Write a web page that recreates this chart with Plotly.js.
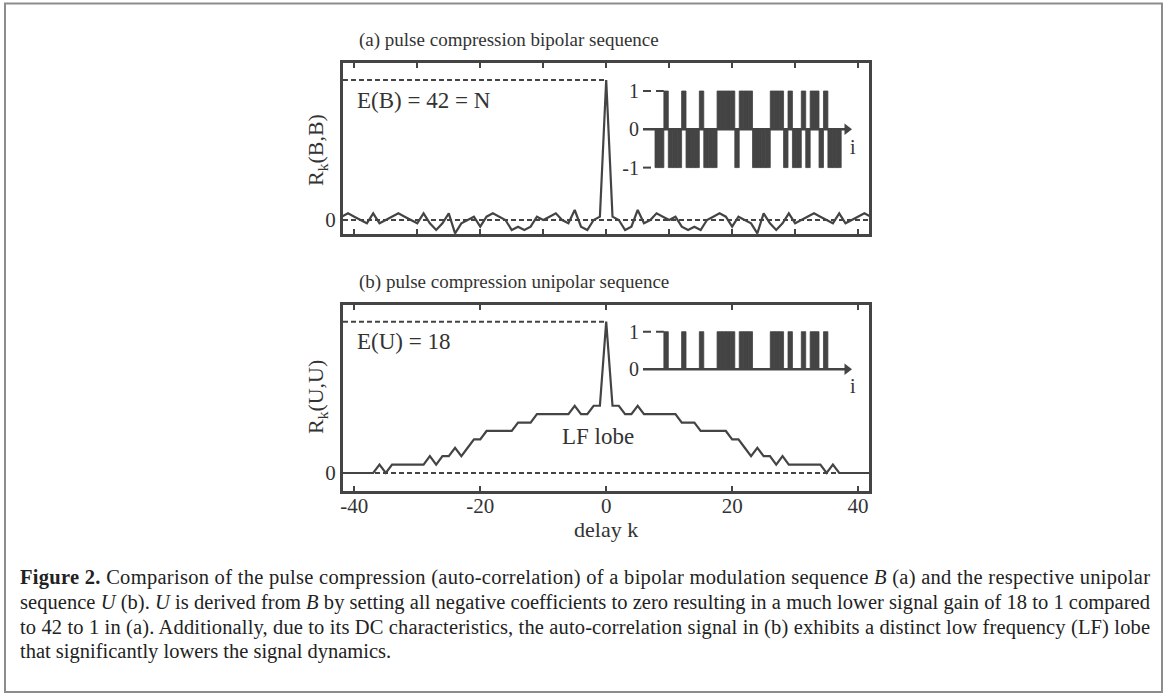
<!DOCTYPE html>
<html>
<head>
<meta charset="utf-8">
<script src="https://cdn.plot.ly/plotly-3.0.1.min.js"></script>
<style>
  html, body { margin: 0; padding: 0; background: #ffffff; }
  #chart { width: 1168px; height: 695px; }
</style>
</head>
<body>
<div id="chart"></div>
<script>
// ---------------- data ----------------
const lags = [-42,-41,-40,-39,-38,-37,-36,-35,-34,-33,-32,-31,-30,-29,-28,-27,-26,-25,-24,-23,-22,-21,
  -20,-19,-18,-17,-16,-15,-14,-13,-12,-11,-10,-9,-8,-7,-6,-5,-4,-3,-2,-1,0,
  1,2,3,4,5,6,7,8,9,10,11,12,13,14,15,16,17,18,19,20,21,22,23,24,25,26,27,28,29,30,31,32,
  33,34,35,36,37,38,39,40,41,42];

// (a) auto-correlation of the bipolar sequence, R_k(B,B)
const rBB = [1,2,1,0,-1,2,-1,0,1,2,1,0,-1,2,-1,-3,-1,2,-4,-1,0,1,
  -2,1,2,1,0,-3,-2,-3,-2,1,0,1,2,0,-1,3,-2,-3,0,1,42,
  1,0,-3,-2,3,-1,0,2,1,0,1,-2,-3,-2,-3,0,1,2,1,-2,1,0,-1,-4,2,-1,-3,-1,2,-1,0,1,
  2,1,0,-1,2,-1,0,1,2,1];

// (b) auto-correlation of the unipolar sequence, R_k(U,U)
const rUU = [0,0,0,0,0,0,1,0,1,1,1,1,1,1,2,1,2,2,3,2,3,4,
  4,5,5,5,5,5,6,6,6,7,7,7,7,7,7,8,7,7,8,8,18,
  8,8,7,7,8,7,7,7,7,7,7,6,6,6,5,5,5,5,5,4,4,3,2,3,2,2,1,2,1,1,1,1,
  1,1,0,1,0,0,0,0,0,0];

// inset sequences (element index i)
const seqIdx = [0,1,2,3,4,5,6,7,8,9,10,11,12,13,14,15,16,17,18,19,20,
  21,22,23,24,25,26,27,28,29,30,31,32,33,34,35,36,37,38,39,40,41];
const seqB = [-1,-1,1,-1,-1,-1,1,-1,-1,-1,1,-1,-1,-1,1,1,1,1,-1,1,1,
  1,-1,-1,-1,-1,1,1,1,-1,1,-1,-1,1,-1,1,1,-1,1,-1,-1,-1];
const seqU = [0,0,1,0,0,0,1,0,0,0,1,0,0,0,1,1,1,1,0,1,1,
  1,0,0,0,0,1,1,1,0,1,0,0,1,0,1,1,0,1,0,0,0];

const xTickVals = [-40,-20,0,20,40];
const xTickText = ['-40','-20','0','20','40'];
const xAllTicks = [-40,-30,-20,-10,0,10,20,30,40];
const xMinorVals = [-30,-10,10,30];
const insetBTicks = [-1,0,1];
const insetBText = ['-1','0','1'];
const insetUTicks = [0,1];
const insetUText = ['0','1'];

const captionLines = [
  '<b>Figure 2.</b> Comparison of the pulse compression (auto-correlation) of a bipolar modulation sequence <i>B</i> (a) and the respective unipolar',
  'sequence <i>U</i> (b). <i>U</i> is derived from <i>B</i> by setting all negative coefficients to zero resulting in a much lower signal gain of 18 to 1 compared',
  'to 42 to 1 in (a). Additionally, due to its DC characteristics, the auto-correlation signal in (b) exhibits a distinct low frequency (LF) lobe',
  'that significantly lowers the signal dynamics.'
];

// ---------------- layout helpers (pixel geometry) ----------------
const W = 1168, H = 695;
const px = x => x / W;
const py = y => 1 - y / H;
const yDom = (top, bottom) => [py(bottom), py(top)];
const xDom = (l, r) => [px(l), px(r)];
function lin(v1, p1, v2, p2, pa, pb) {
  const s = (v2 - v1) / (p2 - p1);
  return [v1 + (pa - p1) * s, v1 + (pb - p1) * s];
}

const INK = '#444444';
const TXT = '#333333';
const FONT = 'Liberation Serif, Times New Roman, serif';

const eB = Math.max(...rBB);
const eU = Math.max(...rUU);

const mainX = lin(-40, 354.3, 0, 606.2, 343, 869);
const topY = lin(0, 220, eB, 80, 234, 62.5);
const botY = lin(0, 473, eU, 321.7, 490.5, 304.8);
const step = (841.2 - 655) / seqIdx.length;
const insX = lin(-0.5, 655, seqIdx.length - 0.5, 841.2, 640, 860);
const insBY = lin(0, 129.3, 1, 91, 185, 75);
const insUY = lin(0, 369.3, 1, 331.7, 395, 318);
const insStart = -0.5 - 12 / step;
const insTip = -0.5 + (847 - 655) / step;
const insLineEnd = -0.5 + (845 - 655) / step;

const axisLine = {showline: true, linecolor: INK, linewidth: 3,
  showgrid: false, zeroline: false};

const traces = [
  {x: lags, y: rBB, xaxis: 'x', yaxis: 'y', type: 'scatter', mode: 'lines',
   line: {color: INK, width: 2.2}, showlegend: false},
  {x: lags, y: rUU, xaxis: 'x2', yaxis: 'y2', type: 'scatter', mode: 'lines',
   line: {color: INK, width: 2.2}, showlegend: false},
  {x: seqIdx, y: seqB, xaxis: 'x3', yaxis: 'y3', type: 'bar', width: 1,
   marker: {color: INK, line: {color: INK, width: 0.8}}, showlegend: false},
  {x: seqIdx, y: seqU, xaxis: 'x4', yaxis: 'y4', type: 'bar', width: 1,
   marker: {color: INK, line: {color: INK, width: 0.8}}, showlegend: false},
  {x: [insTip], y: [0], xaxis: 'x3', yaxis: 'y3', type: 'scatter', mode: 'markers',
   marker: {symbol: 'triangle-right', size: 10, color: INK}, showlegend: false, hoverinfo: 'skip'},
  {x: [insTip], y: [0], xaxis: 'x4', yaxis: 'y4', type: 'scatter', mode: 'markers',
   marker: {symbol: 'triangle-right', size: 10, color: INK}, showlegend: false, hoverinfo: 'skip'}
];

const dashStyle = {color: INK, width: 2, dash: '5px,3px'};
const insetDash = {color: INK, width: 2, dash: '8px,5px'};

const shapes = [
  {type: 'line', xref: 'x', yref: 'y', x0: mainX[0], x1: 0, y0: eB, y1: eB, line: dashStyle, layer: 'below'},
  {type: 'line', xref: 'x', yref: 'y', x0: mainX[0], x1: mainX[1], y0: 0, y1: 0, line: dashStyle, layer: 'below'},
  {type: 'line', xref: 'x2', yref: 'y2', x0: mainX[0], x1: 0, y0: eU, y1: eU, line: dashStyle, layer: 'below'},
  {type: 'line', xref: 'x2', yref: 'y2', x0: mainX[0], x1: mainX[1], y0: 0, y1: 0, line: dashStyle, layer: 'below'},
  {type: 'line', xref: 'x3', yref: 'y3', x0: insStart, x1: 1.5, y0: 1, y1: 1, line: insetDash},
  {type: 'line', xref: 'x3', yref: 'y3', x0: insStart, x1: -0.5, y0: -1, y1: -1, line: insetDash},
  {type: 'line', xref: 'x3', yref: 'y3', x0: insStart, x1: insLineEnd, y0: 0, y1: 0, line: {color: INK, width: 2.5}},
  {type: 'line', xref: 'x4', yref: 'y4', x0: insStart, x1: 1.5, y0: 1, y1: 1, line: insetDash},
  {type: 'line', xref: 'x4', yref: 'y4', x0: insStart, x1: insLineEnd, y0: 0, y1: 0, line: {color: INK, width: 2.5}},
  {type: 'rect', xref: 'paper', yref: 'paper', x0: px(5), x1: px(1162), y0: py(692), y1: py(3.5),
   line: {color: '#8c8c8c', width: 2}, fillcolor: 'rgba(0,0,0,0)'}
];

const annotations = [
  {xref: 'paper', yref: 'paper', x: px(357), y: py(40), xanchor: 'left', yanchor: 'middle',
   text: '(a) pulse compression bipolar sequence', showarrow: false, font: {size: 19, color: TXT}},
  {xref: 'paper', yref: 'paper', x: px(357), y: py(282), xanchor: 'left', yanchor: 'middle',
   text: '(b) pulse compression unipolar sequence', showarrow: false, font: {size: 19, color: TXT}},
  {xref: 'paper', yref: 'paper', x: px(355), y: py(100), xanchor: 'left', yanchor: 'middle',
   text: 'E(B) = ' + eB + ' = N', showarrow: false, font: {size: 23, color: TXT}},
  {xref: 'paper', yref: 'paper', x: px(355), y: py(341), xanchor: 'left', yanchor: 'middle',
   text: 'E(U) = ' + eU, showarrow: false, font: {size: 23, color: TXT}},
  {xref: 'paper', yref: 'paper', x: px(598), y: py(436), xanchor: 'center', yanchor: 'middle',
   text: 'LF lobe', showarrow: false, font: {size: 23, color: TXT}},
  {xref: 'paper', yref: 'paper', x: px(853), y: py(147), xanchor: 'center', yanchor: 'middle',
   text: 'i', showarrow: false, font: {size: 20, color: TXT}},
  {xref: 'paper', yref: 'paper', x: px(853), y: py(386), xanchor: 'center', yanchor: 'middle',
   text: 'i', showarrow: false, font: {size: 20, color: TXT}},
  {xref: 'paper', yref: 'paper', x: px(317), y: py(150), xanchor: 'center', yanchor: 'middle',
   text: 'R<sub>k</sub>(B,B)', textangle: -90, showarrow: false, font: {size: 22, color: TXT}},
  {xref: 'paper', yref: 'paper', x: px(317), y: py(397), xanchor: 'center', yanchor: 'middle',
   text: 'R<sub>k</sub>(U,U)', textangle: -90, showarrow: false, font: {size: 22, color: TXT}},
  {xref: 'paper', yref: 'paper', x: px(606), y: py(529), xanchor: 'center', yanchor: 'middle',
   text: 'delay k', showarrow: false, font: {size: 22, color: TXT}}
];

const capStart = annotations.length;
const capY = [577, 602, 627, 651];
captionLines.forEach((t, i) => {
  annotations.push({xref: 'paper', yref: 'paper', x: px(18), y: py(capY[i]), xanchor: 'left', yanchor: 'middle',
    text: t, showarrow: false, font: {size: 20.5, color: '#222222'}});
});

const tickStyle = {ticks: 'inside', ticklen: 5, tickwidth: 2, tickcolor: INK};

const layout = {
  width: W, height: H,
  margin: {l: 0, r: 0, t: 0, b: 0, autoexpand: false},
  paper_bgcolor: '#ffffff', plot_bgcolor: '#ffffff',
  font: {family: FONT, color: TXT, size: 20},
  showlegend: false,
  bargap: 0,
  // (a) panel: ticks every 10 on both borders, no labels
  xaxis: Object.assign({}, axisLine, tickStyle, {domain: xDom(343, 869), anchor: 'y', range: mainX,
    tickmode: 'array', tickvals: xAllTicks, mirror: 'allticks', showticklabels: false}),
  yaxis: Object.assign({}, axisLine, {domain: yDom(62.5, 234), anchor: 'x', range: topY,
    tickmode: 'array', tickvals: [0], ticktext: ['0'], ticks: '', mirror: true,
    tickfont: {size: 21, color: TXT}}),
  // (b) panel: labelled ticks every 20
  xaxis2: Object.assign({}, axisLine, tickStyle, {domain: xDom(343, 869), anchor: 'y2', range: mainX,
    tickmode: 'array', tickvals: xTickVals, ticktext: xTickText, mirror: 'allticks',
    ticklabelstandoff: -6, tickfont: {size: 21, color: TXT}}),
  // (b) panel: unlabelled intermediate ticks
  xaxis5: Object.assign({}, tickStyle, {domain: xDom(343, 869), anchor: 'y2', overlaying: 'x2',
    range: mainX, tickmode: 'array', tickvals: xMinorVals, showticklabels: false, showline: false,
    showgrid: false, zeroline: false, mirror: 'ticks'}),
  yaxis2: Object.assign({}, axisLine, {domain: yDom(304.8, 490.5), anchor: 'x2', range: botY,
    tickmode: 'array', tickvals: [0], ticktext: ['0'], ticks: '', mirror: true,
    tickfont: {size: 21, color: TXT}}),
  xaxis3: {domain: xDom(640, 860), anchor: 'y3', range: insX, showline: false, showgrid: false,
    zeroline: false, showticklabels: false, ticks: ''},
  yaxis3: {domain: yDom(75, 185), anchor: 'x3', range: insBY, showline: false, showgrid: false,
    zeroline: false, tickmode: 'array', tickvals: insetBTicks, ticktext: insetBText, ticks: '',
    tickfont: {size: 20, color: TXT}},
  xaxis4: {domain: xDom(640, 860), anchor: 'y4', range: insX, showline: false, showgrid: false,
    zeroline: false, showticklabels: false, ticks: ''},
  yaxis4: {domain: yDom(318, 395), anchor: 'x4', range: insUY, showline: false, showgrid: false,
    zeroline: false, tickmode: 'array', tickvals: insetUTicks, ticktext: insetUText, ticks: '',
    tickfont: {size: 20, color: TXT}},
  shapes: shapes,
  annotations: annotations
};

Plotly.newPlot('chart', traces, layout, {displayModeBar: false, staticPlot: true}).then(gd => {
  // justify the first three caption lines to the full text width, as in the printed figure
  for (let i = 0; i < 3; i++) {
    const t = gd.querySelector('.annotation[data-index="' + (capStart + i) + '"] text.annotation-text');
    if (!t) continue;
    const bb = t.getBBox();
    if (bb.width < 900) continue;
    t.setAttribute('text-anchor', 'start');
    t.setAttribute('x', bb.x);
    t.setAttribute('textLength', 1130);
    t.setAttribute('lengthAdjust', 'spacing');
  }
});
</script>
</body>
</html>
